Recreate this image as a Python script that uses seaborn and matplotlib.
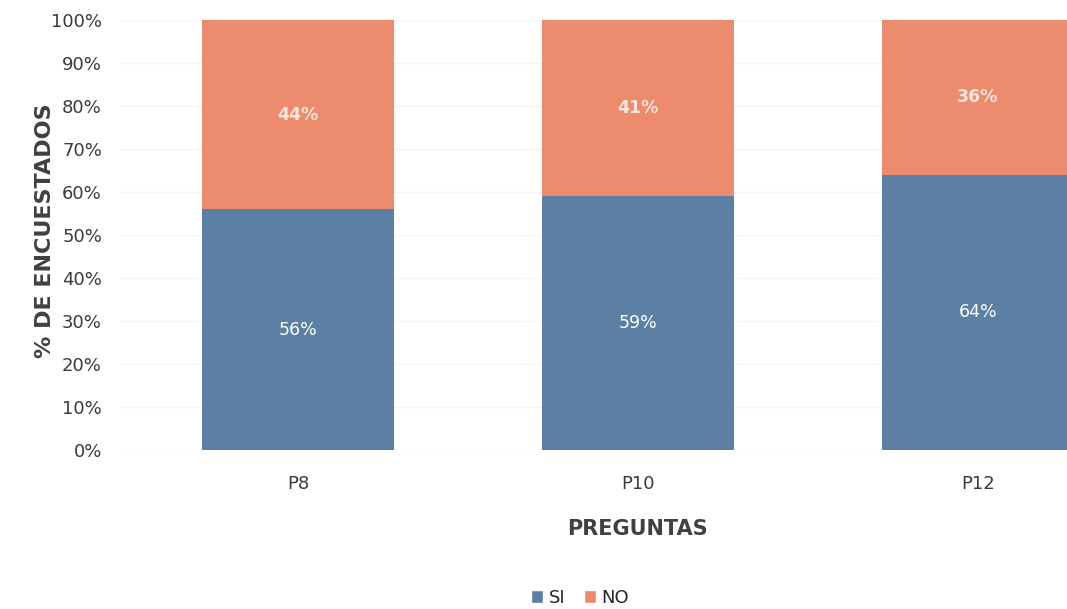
import numpy as np
import pandas as pd
import matplotlib
matplotlib.use("Agg")
import matplotlib.pyplot as plt
import seaborn as sns
from matplotlib.patches import Patch

preguntas = ["P8", "P10", "P12"]
si = [56, 59, 64]
no = [44, 41, 36]
yticks = [0, 10, 20, 30, 40, 50, 60, 70, 80, 90, 100]

color_si = "#5b80a3"
color_no = "#ec8b6d"

sns.set_theme(style="white")
plt.rcParams['font.family'] = ['DejaVu Sans']

df = pd.DataFrame({"pregunta": preguntas, "SI": si, "NO": no})
df["total"] = df["SI"] + df["NO"]

fig = plt.figure(figsize=(10.67, 6.09), dpi=100)
ax = fig.add_axes([120 / 1067, 159 / 609, 1 - 120 / 1067, 430 / 609])

# barras apiladas: total (NO) detras, SI delante
sns.barplot(data=df, x="pregunta", y="total", color=color_no, width=0.565,
            saturation=1, linewidth=0, ax=ax, zorder=2)
sns.barplot(data=df, x="pregunta", y="SI", color=color_si, width=0.565,
            saturation=1, linewidth=0, ax=ax, zorder=3)

for i, row in df.iterrows():
    ax.text(i, row["SI"] / 2, f"{row['SI']}%", ha="center", va="center",
            color="white", fontsize=12.5, zorder=4)
    ax.text(i, row["SI"] + row["NO"] / 2, f"{row['NO']}%", ha="center", va="center",
            color="#fbe5dc", fontsize=12.5, fontweight="bold", zorder=4)

ax.set_ylim(0, 100)
ax.set_xlim(-0.524, 2.262)
ax.set_yticks(yticks)
ax.set_yticklabels([f"{t}%" for t in yticks], fontsize=13, color="#3a3a3a")
ax.tick_params(axis="x", labelsize=13, labelcolor="#3a3a3a", pad=12)
ax.tick_params(axis="y", pad=7)
ax.yaxis.grid(True, color="#f4f4f4", linewidth=1, zorder=0)
sns.despine(ax=ax, left=True, bottom=True, right=True, top=True)

ax.set_xlabel("PREGUNTAS", fontsize=15, fontweight="bold", color="#404040")
ax.set_ylabel("% DE ENCUESTADOS", fontsize=16, fontweight="bold", color="#404040")
ax.xaxis.set_label_coords(0.546, -0.16)
ax.yaxis.set_label_coords(-0.069, 0.51)

handles = [Patch(facecolor=color_si, label="SI"), Patch(facecolor=color_no, label="NO")]
fig.legend(handles=handles, loc="center", bbox_to_anchor=(580 / 1067, 1 - 598 / 609),
           ncol=2, frameon=False, fontsize=13, handlelength=0.7, handleheight=0.7,
           handletextpad=0.3, columnspacing=1.0)

fig.savefig("out.png", dpi=100)
